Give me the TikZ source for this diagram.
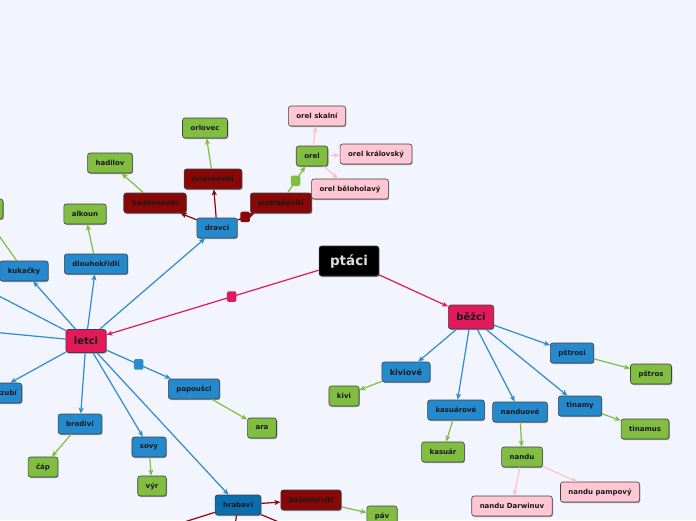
\documentclass[tikz,border=0pt]{standalone}
\usepackage{fontspec}
\newfontfamily\dv{DejaVu Sans}
\usetikzlibrary{arrows.meta,shadows}
\definecolor{bg}{HTML}{F2F5FE}
\definecolor{ccrim}{HTML}{E2195B}
\definecolor{cblue}{HTML}{2589CE}
\definecolor{cbline}{HTML}{2E8BD0}
\definecolor{cdblue}{HTML}{0A6EAE}
\definecolor{cgreen}{HTML}{80BD41}
\definecolor{cdred}{HTML}{880808}
\definecolor{cpinkn}{HTML}{FFC7D3}
\definecolor{cpinkl}{HTML}{FFC0CB}
\tikzset{
 box/.style={draw=black!75, line width=0.6pt, rounded corners=2.5pt,
   font=\dv\bfseries\fontsize{7}{8}\selectfont, inner xsep=8pt, inner ysep=0pt,
   minimum height=20pt, text=black!90,
   drop shadow={shadow xshift=0.8pt, shadow yshift=-1pt, opacity=0.35, fill=black}},
 bluebox/.style={box, fill=cblue},
 greenbox/.style={box, fill=cgreen},
 redbox/.style={box, fill=cdred},
 pinkbox/.style={box, fill=cpinkn},
 conn/.style={line width=1.2pt, -{Stealth[length=6pt,width=5pt,inset=1.5pt]}},
 crimconn/.style={conn, draw=ccrim},
 blueconn/.style={conn, draw=cbline},
 greenconn/.style={conn, draw=cgreen},
 redconn/.style={conn, draw=cdred},
 pinkconn/.style={conn, draw=cpinkl},
 sq/.style={rectangle, rounded corners=1.5pt, minimum width=9.5pt, minimum height=10.5pt, inner sep=0pt, draw=none}
}
\begin{document}
\begin{tikzpicture}[x=1pt,y=-1pt]
\fill[bg] (0,0) rectangle (696,520);
\clip (0,0) rectangle (696,520);

% main nodes
\node[box, fill=black, text=black!13, font=\dv\bfseries\fontsize{13.5}{15}\selectfont, inner xsep=11pt, minimum height=30pt] (ptaci) at (349,261) {ptáci};
\node[box, fill=ccrim, font=\dv\bfseries\fontsize{10}{12}\selectfont, minimum height=23pt] (letci) at (86,341) {letci};
\node[box, fill=ccrim, font=\dv\bfseries\fontsize{10}{12}\selectfont, minimum height=24pt] (bezci) at (471,317) {běžci};

% letci branch
\node[bluebox] (dravci) at (217,228) {dravci};
\node[bluebox] (dlouho) at (96,264) {dlouhokřídlí};
\node[bluebox] (kukacky) at (24,271) {kukačky};
\node[greenbox, minimum width=46pt] (kukchild) at (-20,209) {};
\node[greenbox] (alkoun) at (85,214) {alkoun};
\node[greenbox] (hadilov) at (110,163) {hadilov};
\node[redbox] (hadilovoviti) at (155,203) {hadilovovití};
\node[redbox] (orlovcoviti) at (213,179) {orlovcovití};
\node[greenbox] (orlovec) at (205,128) {orlovec};
\node[redbox] (jestrab) at (281,203) {jestřábovití};
\node[greenbox] (orel) at (312,156) {orel};
\node[pinkbox] (orelskalni) at (317,116) {orel skalní};
\node[pinkbox] (orelkral) at (376,154) {orel královský};
\node[pinkbox] (orelbel) at (350,189) {orel běloholavý};
\node[bluebox, anchor=east, text width=50pt, align=right, inner xsep=5pt] (zubi) at (22,393) {zubí};
\node[bluebox] (brodivi) at (80,424) {brodiví};
\node[greenbox] (cap) at (43,467) {čáp};
\node[bluebox] (sovy) at (149,447) {sovy};
\node[greenbox] (vyr) at (152,486) {výr};
\node[bluebox] (papousci) at (194,389) {papoušci};
\node[greenbox] (ara) at (262,428) {ara};
\node[box, fill=cdblue] (hrabavi) at (238,505) {hrabaví};
\node[redbox] (bazant) at (311,500) {bažantovití};
\node[greenbox] (pav) at (382,516) {páv};

% bezci branch
\node[bluebox, font=\dv\bfseries\fontsize{8}{9}\selectfont] (kiviove) at (406,372) {kiviové};
\node[greenbox] (kivi) at (344,396) {kivi};
\node[bluebox] (kasuarove) at (456,410) {kasuárové};
\node[greenbox] (kasuar) at (443,452) {kasuár};
\node[bluebox] (nanduove) at (520,412) {nanduové};
\node[greenbox] (nandu) at (522,457) {nandu};
\node[pinkbox] (nanduD) at (512,506) {nandu Darwinuv};
\node[pinkbox] (nanduP) at (600,492) {nandu pampový};
\node[bluebox] (pstrosi) at (572,353) {pštrosi};
\node[greenbox] (pstros) at (651,374) {pštros};
\node[bluebox] (tinamy) at (580,406) {tinamy};
\node[greenbox] (tinamus) at (645,429) {tinamus};

% off-canvas ends
\coordinate (L1) at (-40,276);
\coordinate (L2) at (-40,329);
\coordinate (H1) at (140,536);
\coordinate (H2) at (233,540);
\coordinate (H3) at (310,535);

% connectors
\draw[crimconn] (ptaci) -- node[pos=0.41, sq, fill=ccrim]{} (letci);
\draw[crimconn] (ptaci) -- (bezci);

\draw[blueconn] (letci) -- (dravci);
\draw[blueconn] (letci) -- (dlouho);
\draw[blueconn] (letci) -- (kukacky);
\draw[blueconn] (letci) -- (L1);
\draw[blueconn] (letci) -- (L2);
\draw[blueconn] (letci) -- (zubi);
\draw[blueconn] (letci) -- (brodivi);
\draw[blueconn] (letci) -- (sovy);
\draw[blueconn] (letci) -- node[pos=0.5, sq, fill=cbline]{} (papousci);
\draw[blueconn] (letci) -- (hrabavi);
\draw[blueconn] (bezci) -- (kiviove);
\draw[blueconn] (bezci) -- (kasuarove);
\draw[blueconn] (bezci) -- (nanduove);
\draw[blueconn] (bezci) -- (pstrosi);
\draw[blueconn] (bezci) -- (tinamy);

\draw[greenconn] (kukacky) -- (kukchild);
\draw[greenconn] (dlouho) -- (alkoun);
\draw[greenconn] (hadilovoviti) -- (hadilov);
\draw[greenconn] (orlovcoviti) -- (orlovec);
\draw[greenconn] (jestrab) -- node[pos=0.45, sq, fill=cgreen]{} (orel);
\draw[greenconn] (brodivi) -- (cap);
\draw[greenconn] (sovy) -- (vyr);
\draw[greenconn] (papousci) -- (ara);
\draw[greenconn] (bazant) -- (pav);
\draw[greenconn] (kiviove) -- (kivi);
\draw[greenconn] (kasuarove) -- (kasuar);
\draw[greenconn] (nanduove) -- (nandu);
\draw[greenconn] (pstrosi) -- (pstros);
\draw[greenconn] (tinamy) -- (tinamus);

\draw[redconn] (dravci) -- (hadilovoviti);
\draw[redconn] (dravci) -- (orlovcoviti);
\draw[redconn] (dravci) -- node[pos=0.45, sq, fill=cdred]{} (jestrab);
\draw[redconn] (hrabavi) -- (bazant);
\draw[redconn] (hrabavi) -- (H1);
\draw[redconn] (hrabavi) -- (H2);
\draw[redconn] (hrabavi) -- (H3);

\draw[pinkconn] (orel) -- (orelskalni);
\draw[pinkconn] (orel) -- (orelkral);
\draw[pinkconn] (orel) -- (orelbel);
\draw[pinkconn] (nandu) -- (nanduD);
\draw[pinkconn] (nandu) -- (nanduP);
\end{tikzpicture}
\end{document}
